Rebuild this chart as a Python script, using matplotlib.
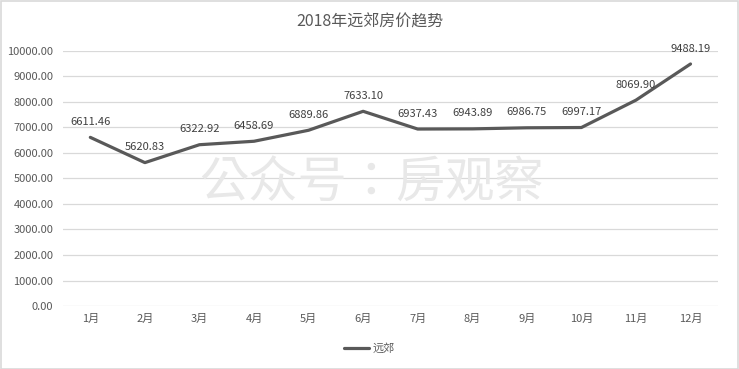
import matplotlib
matplotlib.use("Agg")
import matplotlib.pyplot as plt
from matplotlib.patches import Rectangle

plt.rcParams['font.family'] = ['Noto Sans CJK SC', 'DejaVu Sans']

title = "2018年远郊房价趋势"
months = ["1月", "2月", "3月", "4月", "5月", "6月", "7月", "8月", "9月", "10月", "11月", "12月"]
prices = [6611.46, 5620.83, 6322.92, 6458.69, 6889.86, 7633.10, 6937.43, 6943.89, 6986.75, 6997.17, 8069.90, 9488.19]
series_name = "远郊"
yticks = [0, 1000, 2000, 3000, 4000, 5000, 6000, 7000, 8000, 9000, 10000]
watermark = "公众号：房观察"

fig = plt.figure(figsize=(7.39, 3.69), dpi=100)
fig.patch.set_facecolor("white")
ax = fig.add_axes([0.0853, 0.1707, 0.886, 0.6913])

x = list(range(len(months)))
line_color = "#595959"
ax.plot(x, prices, color=line_color, linewidth=2.3, label=series_name, solid_capstyle="round", zorder=3)
for xi, v in zip(x, prices):
    ax.annotate(f"{v:.2f}", (xi, v), xytext=(0, 7.5), textcoords="offset points",
                ha="center", va="bottom", fontsize=8, color="#404040", zorder=4)

ax.set_xlim(-0.5, len(months) - 0.5)
ax.set_ylim(0, 10000)
ax.set_yticks(yticks)
ax.set_yticklabels([f"{t:.2f}" for t in yticks])
ax.set_xticks(x)
ax.set_xticklabels(months)
ax.tick_params(axis="both", length=0, labelsize=8, colors="#595959")
ax.tick_params(axis="y", pad=7)
ax.tick_params(axis="x", pad=6)
ax.grid(axis="y", color="#d9d9d9", linewidth=0.9)
ax.set_axisbelow(True)
for s in ax.spines.values():
    s.set_visible(False)

fig.text(0.5, 0.94, title, ha="center", va="center", fontsize=11.5, color="#595959")
fig.text(0.503, 0.505, watermark, ha="center", va="center", fontsize=35.5, color="#e8e8e8", zorder=0,
         family=['Noto Sans CJK TC', 'Noto Sans CJK SC', 'DejaVu Sans'])

leg = fig.legend(loc="center", bbox_to_anchor=(0.5, 0.055), frameon=False, fontsize=8,
                 handlelength=2.2, handletextpad=0.3)
for t in leg.get_texts():
    t.set_color("#595959")

fig.add_artist(Rectangle((0.001, 0.001), 0.997, 0.996, transform=fig.transFigure,
                         fill=False, edgecolor="#d9d9d9", linewidth=1.2))

fig.savefig("out.png", dpi=100, facecolor="white")
